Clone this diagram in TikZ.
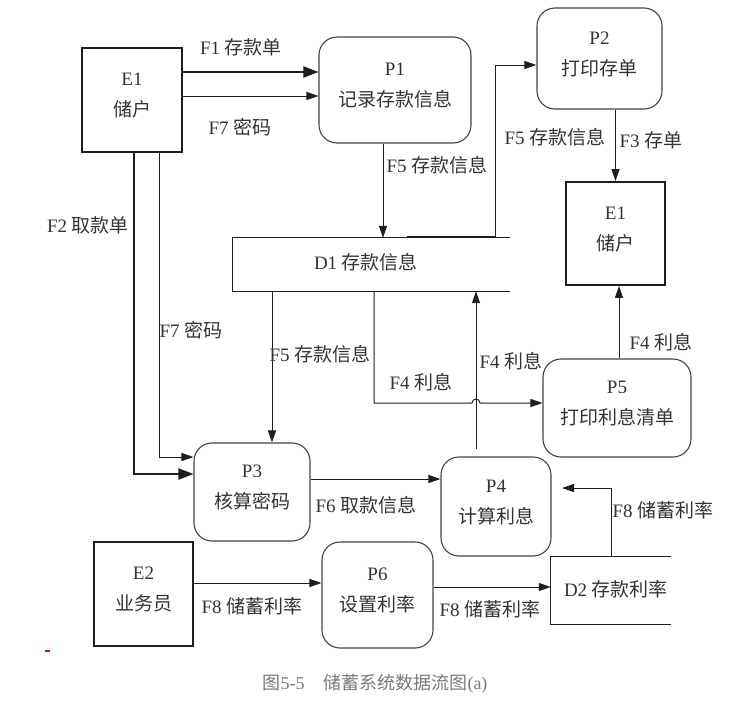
\documentclass[tikz,border=0pt]{standalone}
\usepackage{fontspec}
\setmainfont{Liberation Serif}
\newfontfamily\cjk{Noto Sans CJK SC}
\newcommand\zh[1]{{\cjk #1}}
\newcommand\twoline[2]{\raisebox{5pt}[\height][\depth]{\begin{tabular}{@{}c@{}}#1\\#2\end{tabular}}}
\usetikzlibrary{arrows.meta}
\definecolor{ink}{HTML}{1E1E1E}
\definecolor{txt}{HTML}{333333}
\definecolor{boxline}{HTML}{444444}
\definecolor{cap}{HTML}{7A7A7A}
\begin{document}
\begin{tikzpicture}[x=1pt,y=-1pt,
  every node/.style={font=\fontsize{19}{31}\selectfont, text=txt, inner sep=0pt},
  ent/.style={draw=ink, line width=1.8pt},
  proc/.style={draw=boxline, line width=1.1pt, rounded corners=18pt},
  storeline/.style={draw=ink, line width=1pt},
  flow/.style={draw=ink, line width=1pt, -{Triangle[length=12pt,width=8pt]}},
  boldflow/.style={draw=ink, line width=2pt, -{Triangle[length=15pt,width=11pt]}},
  plain/.style={draw=ink, line width=1pt}]
\useasboundingbox (0,0) rectangle (736,712);

% entities
\node[ent, minimum width=100pt, minimum height=104pt] (E1) at (132,100) {\twoline{E1}{\zh{储户}}};
\node[ent, minimum width=99pt, minimum height=103pt] (E1b) at (615.5,233.5) {\twoline{E1}{\zh{储户}}};
\node[ent, minimum width=99pt, minimum height=104pt] (E2) at (143.5,594) {\twoline{E2}{\zh{业务员}}};

% processes
\node[proc, minimum width=152pt, minimum height=106pt] (P1) at (395,90) {\twoline{P1}{\zh{记录存款信息}}};
\node[proc, minimum width=125pt, minimum height=101pt] (P2) at (599.5,58.5) {\twoline{P2}{\zh{打印存单}}};
\node[proc, minimum width=116pt, minimum height=98pt] (P3) at (252,492) {\twoline{P3}{\zh{核算密码}}};
\node[proc, minimum width=110pt, minimum height=99pt] (P4) at (496,506.5) {\twoline{P4}{\zh{计算利息}}};
\node[proc, minimum width=148pt, minimum height=98pt] (P5) at (617,408) {\twoline{P5}{\zh{打印利息清单}}};
\node[proc, minimum width=111pt, minimum height=106pt] (P6) at (377.5,595) {\twoline{P6}{\zh{设置利率}}};

% data stores
\node[minimum width=277pt, minimum height=53pt] (D1) at (371.5,264.5) {};
\node (D1t) at (366,262) {D1 \zh{存款信息}};
\draw[storeline] (D1.north east) -- (D1.north west) -- (D1.south west) -- (D1.south east);
\node[minimum width=120pt, minimum height=67pt] (D2) at (611,590.5) {};
\node (D2t) at (616,589) {D2 \zh{存款利率}};
\draw[storeline] (D2.north east) -- (D2.north west) -- (D2.south west) -- (D2.south east);

% helper coordinates
\coordinate (d1p2) at (407,236);
\coordinate (p4up) at (476,449);
\coordinate (d2p4) at (562,488);

% flows
\draw[boldflow] (E1.east |- 0,72) -- (P1.west |- 0,72);
\draw[flow] (E1.east |- 0,96) -- (P1.west |- 0,96);
\draw[flow] (P1.south -| 383,0) -- (D1.north -| 383,0);
\draw[flow] (d1p2) -- (495,236) -- (495,65) -- (P2.west |- 0,65);
\draw[flow] (P2.south -| E1b.north) -- (E1b.north);
\draw[boldflow] (E1.south -| 134,0) -- (134,474) -- (P3.west |- 0,474);
\draw[flow] (E1.south -| 159,0) -- (159,457) -- (P3.west |- 0,457);
\draw[flow] (D1.south -| 272,0) -- (P3.north -| 272,0);
\draw[flow] (D1.south -| 374,0) -- (374,403) -- (472,403) arc[start angle=180, end angle=0, radius=4pt] -- (P5.west |- 0,403);
\draw[flow] (p4up) -- (D1.south -| p4up);
\draw[flow] (P5.north -| 619,0) -- (E1b.south -| 619,0);
\draw[flow] (P3.east |- 0,479) -- (P4.west |- 0,479);
\draw[flow] (D2.north -| 611,0) -- (611,488) -- (d2p4);
\draw[flow] (E2.east |- 0,583) -- (P6.west |- 0,583);
\draw[flow] (P6.east |- 0,587) -- (D2.west |- 0,587);

% flow labels
\node (l1) at (241,47) {F1 \zh{存款单}};
\node (l2) at (240,127) {F7 \zh{密码}};
\node (l3) at (437,165) {F5 \zh{存款信息}};
\node (l4) at (555,137) {F5 \zh{存款信息}};
\node (l5) at (651,140) {F3 \zh{存单}};
\node (l6) at (88,225) {F2 \zh{取款单}};
\node (l7) at (191,330) {F7 \zh{密码}};
\node (l8) at (320,354) {F5 \zh{存款信息}};
\node (l9) at (421,382) {F4 \zh{利息}};
\node (l10) at (511,361) {F4 \zh{利息}};
\node (l11) at (661,342) {F4 \zh{利息}};
\node (l12) at (366,505) {F6 \zh{取款信息}};
\node (l13) at (663,510) {F8 \zh{储蓄利率}};
\node (l14) at (252,606) {F8 \zh{储蓄利率}};
\node (l15) at (490,609) {F8 \zh{储蓄利率}};

% stray mark and caption
\draw[red, line width=1.5pt] (45,651) -- (50,651);
\node[font=\fontsize{18}{21}\selectfont, text=cap] (cap) at (375,684) {\zh{图}5-5\hspace{19pt}\zh{储蓄系统数据流图}(a)};
\end{tikzpicture}
\end{document}
